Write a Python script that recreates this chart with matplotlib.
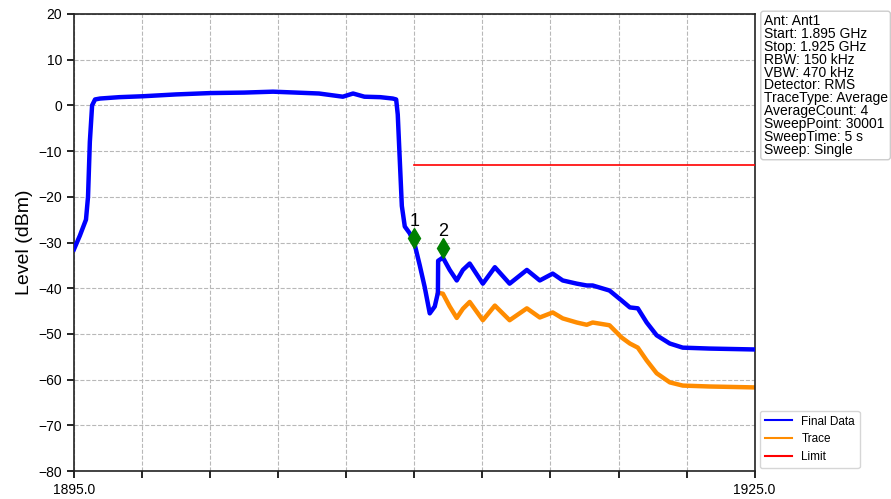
import numpy as np
import matplotlib
matplotlib.use('Agg')
import matplotlib.pyplot as plt
from matplotlib.lines import Line2D

plt.rcParams['font.family'] = ['Liberation Sans', 'DejaVu Sans']

# Final Data trace (MHz, dBm)
final_f = [1895.0, 1895.26, 1895.53, 1895.62, 1895.7, 1895.8, 1895.93, 1896.15,
           1897.0, 1898.04, 1899.5, 1901.04, 1902.5, 1903.77, 1904.8, 1905.8,
           1906.85, 1907.3, 1907.8, 1908.5, 1909.05, 1909.2, 1909.27, 1909.36,
           1909.45, 1909.58, 1909.8, 1910.02, 1910.24, 1910.46, 1910.68, 1910.9,
           1911.04, 1911.05, 1911.26, 1911.56, 1911.87, 1912.14, 1912.44, 1913.02,
           1913.55, 1914.2, 1914.96, 1915.53, 1916.1, 1916.54, 1917.16, 1917.6,
           1917.86, 1918.6, 1919.14, 1919.5, 1919.85, 1920.24, 1920.68, 1921.26,
           1921.83, 1923.0, 1925.0]
final_db = [-31.5, -28.5, -25.0, -20.0, -8.0, 0.0, 1.3, 1.5,
            1.8, 2.0, 2.4, 2.7, 2.8, 3.0, 2.8, 2.6,
            1.9, 2.6, 1.9, 1.8, 1.5, 1.3, -2.0, -12.0,
            -22.0, -26.5, -28.0, -30.5, -35.0, -39.8, -45.5, -44.0,
            -41.0, -34.0, -33.3, -36.0, -38.3, -36.0, -34.6, -39.0,
            -35.4, -39.0, -36.0, -38.3, -36.8, -38.3, -39.0, -39.4,
            -39.4, -40.5, -42.7, -44.2, -44.4, -47.5, -50.3, -52.1,
            -53.0, -53.2, -53.4]

# Trace (visible part)
trace_f = [1911.04, 1911.26, 1911.56, 1911.87, 1912.14, 1912.44, 1913.02, 1913.55,
           1914.2, 1914.96, 1915.53, 1916.1, 1916.54, 1917.16, 1917.6, 1917.86,
           1918.6, 1919.14, 1919.5, 1919.85, 1920.24, 1920.68, 1921.26, 1921.83,
           1923.0, 1925.0]
trace_db = [-41.0, -41.2, -44.0, -46.5, -44.5, -43.0, -47.0, -43.8,
            -47.0, -44.4, -46.4, -45.3, -46.6, -47.5, -48.0, -47.5,
            -48.1, -50.8, -52.1, -53.0, -55.8, -58.6, -60.6, -61.3,
            -61.5, -61.7]

limit_f = [1910.0, 1925.0]
limit_db = [-13.0, -13.0]

marker_f = [1910.0, 1911.25]
marker_db = [-29.0, -31.2]
marker_lbl = ['1', '2']

info = ['Ant: Ant1', 'Start: 1.895 GHz', 'Stop: 1.925 GHz', 'RBW: 150 kHz',
        'VBW: 470 kHz', 'Detector: RMS', 'TraceType: Average', 'AverageCount: 4',
        'SweepPoint: 30001', 'SweepTime: 5 s', 'Sweep: Single']

fig = plt.figure(figsize=(8.91, 4.99), dpi=100)
ax = fig.add_axes([0.083, 0.056, 0.764, 0.916])

ax.plot(trace_f, trace_db, color='darkorange', lw=3.2, zorder=2)
ax.plot(final_f, final_db, color='blue', lw=3.2, zorder=3)
ax.plot(limit_f, limit_db, color='red', lw=1.2, zorder=3)
ax.plot(marker_f, marker_db, 'd', color='green', ms=10, zorder=4)
for f, d, t in zip(marker_f, marker_db, marker_lbl):
    ax.annotate(t, (f, d), xytext=(0, 6), textcoords='offset points',
                ha='center', va='bottom', fontsize=13)

ax.set_xlim(1895, 1925)
ax.set_ylim(-80, 20)
xt = np.linspace(1895, 1925, 11)
ax.set_xticks(xt)
ax.set_xticklabels(['1895.0'] + [''] * 9 + ['1925.0'])
ax.set_yticks(np.arange(-80, 21, 10))
ax.tick_params(labelsize=10, width=1.2, length=5)
ax.grid(True, ls='--', color='#b8b8b8', lw=0.8)
ax.set_ylabel('Level (dBm)', fontsize=14)
for s in ax.spines.values():
    s.set_linewidth(1.2)
    s.set_color('#222222')

fig.text(0.857, 0.972, '\n'.join(info), fontsize=10, va='top', ha='left',
         linespacing=0.9,
         bbox=dict(boxstyle='round,pad=0.2', fc='white', ec='#cccccc'))

handles = [Line2D([], [], color='blue', lw=1.5),
           Line2D([], [], color='darkorange', lw=1.5),
           Line2D([], [], color='red', lw=1.5)]
fig.legend(handles, ['Final Data', 'Trace', 'Limit'], loc='lower left',
           bbox_to_anchor=(0.853, 0.062), fontsize=8.5, handlelength=2.3,
           borderaxespad=0)

fig.savefig('out.png', dpi=100)
